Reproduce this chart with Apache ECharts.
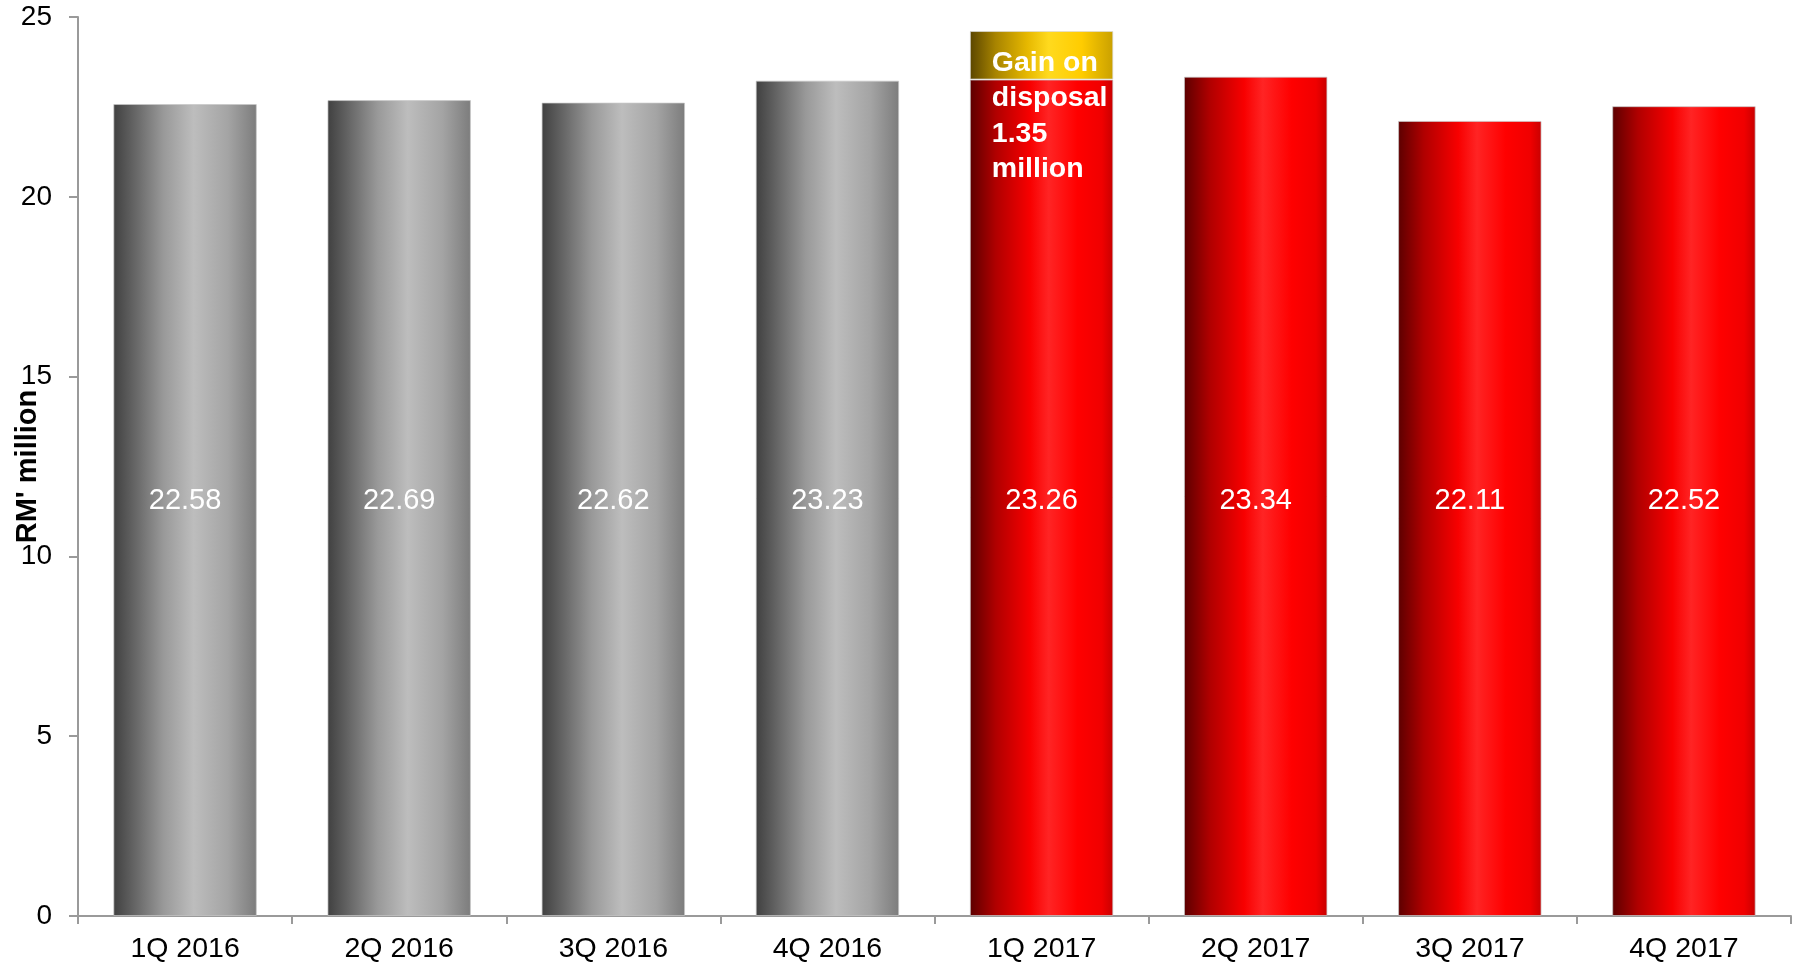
<!DOCTYPE html>
<html>
<head>
<meta charset="utf-8">
<script src="https://cdn.jsdelivr.net/npm/echarts@6/dist/echarts.min.js"></script>
<style>
  html, body { margin: 0; padding: 0; background: #ffffff; }
  #chart { width: 1801px; height: 963px; }
</style>
</head>
<body>
<div id="chart"></div>
<script>
// Quarterly figures, RM' million
const quarters = ['1Q 2016', '2Q 2016', '3Q 2016', '4Q 2016', '1Q 2017', '2Q 2017', '3Q 2017', '4Q 2017'];
const coreValues = [22.58, 22.69, 22.62, 23.23, 23.26, 23.34, 22.11, 22.52];
const gainOnDisposal = [null, null, null, null, 1.35, null, null, null];
const yTicks = { min: 0, max: 25, interval: 5 };

const FONT = '"Liberation Sans", Arial, sans-serif';

function hGradient(stops) {
  return new echarts.graphic.LinearGradient(0, 0, 1, 0,
    stops.map(s => ({ offset: s[0], color: s[1] })));
}

const grayFill = hGradient([
  [0, '#404040'], [0.12, '#5e5e5e'], [0.35, '#999999'],
  [0.56, '#bdbdbd'], [0.8, '#a4a4a4'], [1, '#7c7c7c']
]);
const redFill = hGradient([
  [0, '#5c0000'], [0.18, '#b00000'], [0.42, '#f80000'],
  [0.55, '#ff2424'], [0.75, '#ff0000'], [0.92, '#f00000'], [1, '#c80000']
]);
const goldFill = hGradient([
  [0, '#5a4500'], [0.18, '#a88400'], [0.4, '#e6b800'],
  [0.55, '#ffda1e'], [0.78, '#ffcc00'], [1, '#c9a000']
]);

// 2016 quarters in grey, 2017 quarters in red
const coreData = coreValues.map((v, i) => ({
  value: v,
  itemStyle: { color: quarters[i].endsWith('2016') ? grayFill : redFill }
}));

const chart = echarts.init(document.getElementById('chart'), null, { renderer: 'canvas' });

chart.setOption({
  backgroundColor: '#ffffff',
  animation: false,
  grid: { left: 78, right: 10, top: 17, bottom: 47, containLabel: false, outerBoundsMode: 'none' },
  xAxis: {
    type: 'category',
    data: quarters,
    axisLine: { lineStyle: { color: '#9a9a9a', width: 2 } },
    axisTick: { show: true, length: 8, lineStyle: { color: '#9a9a9a', width: 2 } },
    axisLabel: { color: '#000000', fontSize: 28.5, fontFamily: FONT, margin: 19 }
  },
  yAxis: {
    type: 'value',
    min: yTicks.min,
    max: yTicks.max,
    interval: yTicks.interval,
    name: "RM' million",
    nameLocation: 'middle',
    nameGap: 36,
    nameRotate: 90,
    nameMoveOverlap: false,
    nameTextStyle: { color: '#000000', fontSize: 29, fontWeight: 'bold', fontFamily: FONT },
    splitLine: { show: false },
    axisLine: { show: true, lineStyle: { color: '#9a9a9a', width: 2 } },
    axisTick: { show: true, length: 9, lineStyle: { color: '#9a9a9a', width: 2 } },
    axisLabel: { color: '#000000', fontSize: 28, fontFamily: FONT, margin: 26 }
  },
  series: [
    {
      name: 'Core',
      type: 'bar',
      stack: 'total',
      barCategoryGap: '33%',
      data: coreData,
      itemStyle: { borderColor: 'rgba(200,200,200,0.7)', borderWidth: 1 },
      // values sit on one common line across the bars
      label: {
        show: true,
        position: 'insideBottom',
        distance: 401,
        color: '#ffffff',
        fontSize: 29,
        fontFamily: FONT
      }
    },
    {
      name: 'Gain on disposal',
      type: 'bar',
      stack: 'total',
      data: gainOnDisposal,
      itemStyle: { color: goldFill, borderColor: 'rgba(220,220,220,0.7)', borderWidth: 1 },
      z: 3,
      label: {
        show: true,
        position: 'insideTopLeft',
        distance: 0,
        offset: [22, 14],
        formatter: p => 'Gain on\ndisposal\n' + p.value + '\nmillion',
        color: '#ffffff',
        fontSize: 28.5,
        fontWeight: 'bold',
        lineHeight: 35.5,
        fontFamily: FONT,
        overflow: 'none'
      }
    }
  ]
});
</script>
</body>
</html>
